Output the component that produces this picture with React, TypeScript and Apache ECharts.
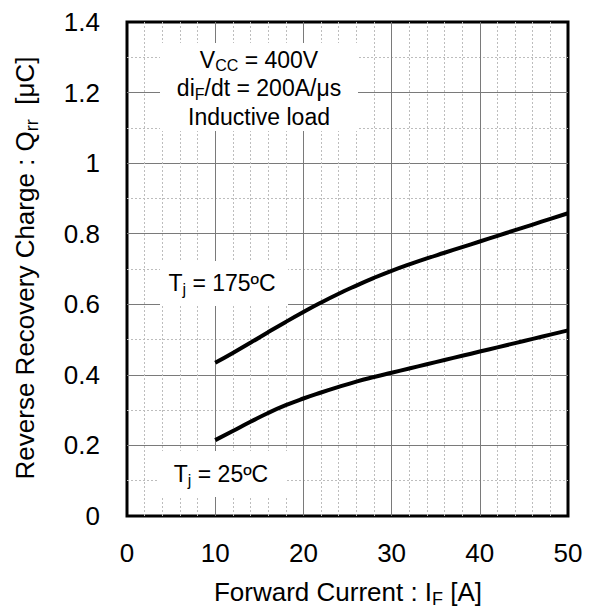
import React, { useEffect, useRef } from 'react';
import * as echarts from 'echarts';

const forwardCurrent = [10, 12, 14, 16, 18, 20, 22, 24, 26, 28, 30, 32, 34, 36, 38, 40, 42, 44, 46, 48, 50];
const qrrTj175 = [0.434, 0.462, 0.491, 0.521, 0.55, 0.578, 0.605, 0.63, 0.653, 0.675, 0.695, 0.713, 0.73, 0.746, 0.762, 0.778, 0.794, 0.81, 0.826, 0.842, 0.858];
const qrrTj25 = [0.215, 0.241, 0.267, 0.292, 0.314, 0.333, 0.35, 0.366, 0.381, 0.394, 0.406, 0.418, 0.43, 0.442, 0.454, 0.466, 0.478, 0.49, 0.502, 0.514, 0.526];

const xRange = [0, 50];
const yRange = [0, 1.4];

const FONT = '"Liberation Sans", Arial, sans-serif';

const rich = (size: number, subSize: number, subLH: number, lh: number) => ({
  n: { fontSize: size, lineHeight: lh, fontFamily: FONT, fill: '#000', color: '#000' },
  s: { fontSize: subSize, lineHeight: subLH, verticalAlign: 'bottom', fontFamily: FONT, fill: '#000', color: '#000' },
});

export default function App() {
  const ref = useRef<HTMLDivElement>(null);
  useEffect(() => {
    if (!ref.current) return;
    const chart = echarts.init(ref.current, undefined, { renderer: 'svg' });
    const pair = (ys: number[]) => forwardCurrent.map((x, i) => [x, ys[i]]);
    chart.setOption({
      animation: false,
      backgroundColor: '#fff',
      grid: {
        left: 127, right: 24, top: 22, bottom: 96,
        show: true, borderColor: '#000', borderWidth: 3, backgroundColor: 'transparent',
      },
      xAxis: {
        type: 'value', min: xRange[0], max: xRange[1], interval: 10,
        axisLine: { show: false }, axisTick: { show: false },
        axisLabel: { fontFamily: FONT, fontSize: 26, color: '#000', margin: 24 },
        splitLine: { show: true, showMinLine: false, showMaxLine: false, lineStyle: { color: '#7a7a7a', width: 1 } },
        minorSplitLine: { show: true, lineStyle: { color: '#bdbdbd', width: 1, type: [2, 2] } },
        minorTick: { show: false, splitNumber: 5 },
      },
      yAxis: {
        type: 'value', min: yRange[0], max: yRange[1], interval: 0.2,
        axisLine: { show: false }, axisTick: { show: false },
        axisLabel: { fontFamily: FONT, fontSize: 26, color: '#000', margin: 27 },
        splitLine: { show: true, showMinLine: false, showMaxLine: false, lineStyle: { color: '#7a7a7a', width: 1 } },
        minorSplitLine: { show: true, lineStyle: { color: '#bdbdbd', width: 1, type: [2, 2] } },
        minorTick: { show: false, splitNumber: 2 },
      },
      series: [
        { type: 'line', name: 'Tj=175', data: pair(qrrTj175), smooth: true, showSymbol: false, lineStyle: { color: '#000', width: 4 }, z: 5 },
        { type: 'line', name: 'Tj=25', data: pair(qrrTj25), smooth: true, showSymbol: false, lineStyle: { color: '#000', width: 4 }, z: 5 },
      ],
      graphic: [
        { type: 'rect', shape: { x: 160, y: 43, width: 198, height: 88 }, style: { fill: '#fff' }, z: 10 },
        {
          type: 'text', x: 259, y: 88, z: 11,
          style: {
            text: '{n|V}{s|CC}{n| = 400V}\n{n|di}{s|F}{n|/dt = 200A/μs}\n{n|Inductive load}',
            align: 'center', verticalAlign: 'middle',
            rich: rich(23, 16, 12, 28.5),
          },
        },
        { type: 'rect', shape: { x: 160, y: 261, width: 128, height: 45 }, style: { fill: '#fff' }, z: 10 },
        {
          type: 'text', x: 222, y: 283, z: 11,
          style: { text: '{n|T}{s|j}{n| = 175ºC}', align: 'center', verticalAlign: 'middle', rich: rich(23, 16, 12, 28) },
        },
        { type: 'rect', shape: { x: 157, y: 451, width: 130, height: 46 }, style: { fill: '#fff' }, z: 10 },
        {
          type: 'text', x: 221, y: 474, z: 11,
          style: { text: '{n|T}{s|j}{n| = 25ºC}', align: 'center', verticalAlign: 'middle', rich: rich(23, 16, 12, 28) },
        },
        {
          type: 'text', x: 348, y: 592, z: 11,
          style: { text: '{n|Forward Current : I}{s|F}{n| [A]}', align: 'center', verticalAlign: 'middle', rich: rich(26, 18, 14, 32) },
        },
        {
          type: 'text', x: 25, y: 268, rotation: Math.PI / 2, z: 11,
          style: { text: '{n|Reverse Recovery Charge : Q}{s|rr}{n|  [μC]}', align: 'center', verticalAlign: 'middle', rich: rich(26, 18, 14, 32) },
        },
      ],
    });
    return () => chart.dispose();
  }, []);
  return <div ref={ref} style={{ position: 'fixed', left: 0, top: 0, width: 592, height: 612 }} />;
}
